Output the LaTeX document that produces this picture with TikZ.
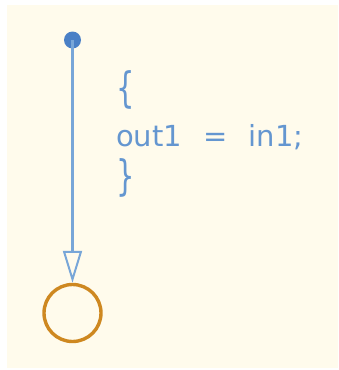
\documentclass[tikz,border=0pt]{standalone}
\usepackage{fontspec}
\setmainfont{DejaVu Sans}
\newfontfamily\actionfont[WordSpace=2.3]{DejaVu Sans}
\usetikzlibrary{arrows.meta, positioning}
\definecolor{chartbg}{RGB}{255, 251, 236}
\definecolor{transblue}{RGB}{120, 166, 216}
\definecolor{textblue}{RGB}{100, 150, 208}
\definecolor{dotblue}{RGB}{74, 128, 198}
\definecolor{stateorange}{RGB}{206, 136, 32}
\newcommand{\tallbrace}[1]{\scalebox{1}[1.45]{#1}}
\tikzset{
    defaultdot/.style={circle, fill=dotblue, inner sep=0pt, minimum size=17pt},
    junction/.style={circle, draw=stateorange, line width=3.4pt, minimum size=57pt, inner sep=0pt},
    transition/.style={-{Triangle[open, length=32pt, width=19pt, line width=2pt]}, line width=2.5pt, draw=transblue},
    actiontext/.style={font=\actionfont\fontsize{29}{44}\selectfont, text=textblue, align=left, inner sep=0pt},
}

\begin{document}
\begin{tikzpicture}[x=1pt, y=-1pt]
    \useasboundingbox (0, 0) rectangle (339, 370);
    % Chart background
    \fill[chartbg] (7, 5) rectangle (338, 368);

    % Default transition
    \node[defaultdot] (start) at (72.5, 40) {};
    \node[junction] (junc) at (72.5, 313) {};
    \draw[transition] (start.center) -- (junc.north);

    % Transition action
    \node[actiontext, anchor=west] (action) at (116, 134) {%
        \tallbrace{\{}\\
        out1 = in1;\\
        \tallbrace{\}}};
\end{tikzpicture}
\end{document}
